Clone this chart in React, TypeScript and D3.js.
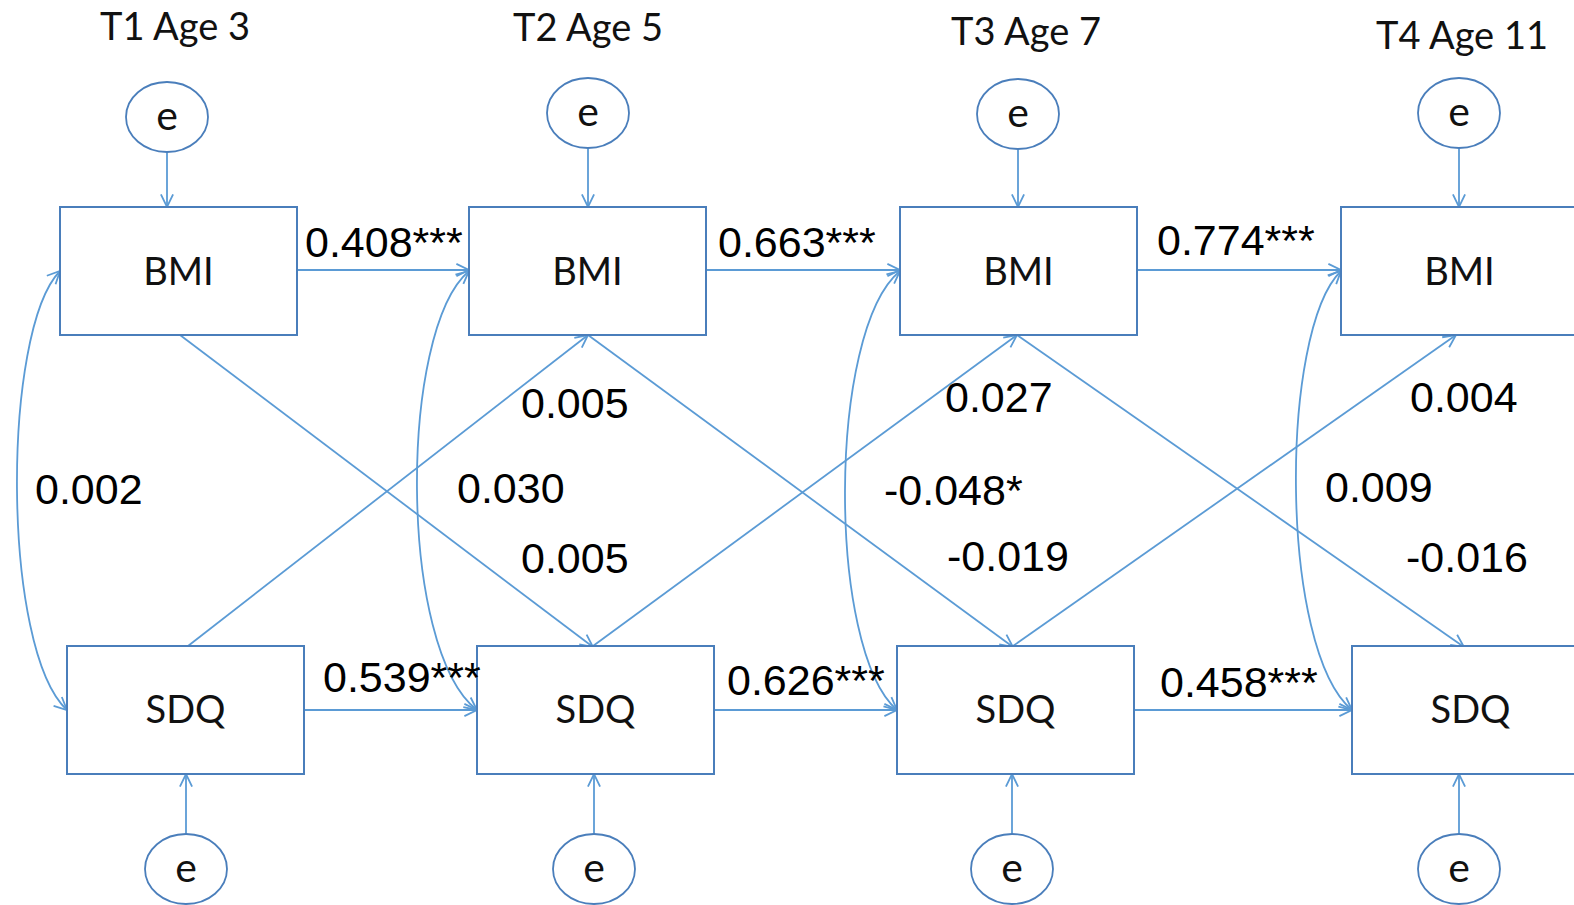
import React from "react";
import * as d3 from "d3";

// Cross-lagged panel model: BMI and SDQ across four waves
const waves = ["T1 Age 3", "T2 Age 5", "T3 Age 7", "T4 Age 11"];
const bmiStability = ["0.408***", "0.663***", "0.774***"];
const sdqStability = ["0.539***", "0.626***", "0.458***"];
const sdqToBmi = ["0.005", "0.027", "0.004"];
const bmiToSdq = ["0.005", "-0.019", "-0.016"];
const residualCorr = ["0.002", "0.030", "-0.048*", "0.009"];

// Layout
const W = 1574;
const H = 905;
const BOX_W = 237;
const BOX_H = 128;
const bmiBoxX = [60, 469, 900, 1341];
const sdqBoxX = [67, 477, 897, 1352];
const BMI_Y = 207;
const SDQ_Y = 646;
const bmiAnchor = [180, 588, 1017, 1456];
const sdqAnchor = [188, 593, 1013, 1464];
const topErr: [number, number][] = [[167, 117], [588, 113], [1018, 114], [1459, 113]];
const botErr: [number, number][] = [[186, 869], [594, 869], [1012, 869], [1459, 869]];
const ERR_RX = 41;
const ERR_RY = 35;
const curveLeft = [17, 417, 845, 1296];
const titlePos: [number, number][] = [[175, 40], [588, 41], [1026, 45], [1462, 49]];
const bmiLabelPos: [number, number][] = [[305, 257], [718, 257], [1157, 255]];
const sdqLabelPos: [number, number][] = [[323, 692], [727, 695], [1160, 697]];
const upperPos: [number, number][] = [[521, 418], [945, 412], [1410, 412]];
const lowerPos: [number, number][] = [[521, 573], [947, 571], [1406, 572]];
const corrPos: [number, number][] = [[35, 504], [457, 503], [884, 505], [1325, 502]];

const BOX_STROKE = "#4A7EBB";
const LINE = "#5B9BD5";
const NUM_FONT = "'Liberation Sans', Arial, sans-serif";
const LABEL_FONT = "Lato, 'Open Sans', sans-serif";

type P = [number, number];

const line = d3.line<P>();

function head(tip: P, angle: number, len = 14, spread = 0.45): string {
  const a: P = [tip[0] - len * Math.cos(angle - spread), tip[1] - len * Math.sin(angle - spread)];
  const b: P = [tip[0] - len * Math.cos(angle + spread), tip[1] - len * Math.sin(angle + spread)];
  return line([a, tip, b]) as string;
}

function Arrow({ from, to }: { from: P; to: P }) {
  const ang = Math.atan2(to[1] - from[1], to[0] - from[0]);
  return (
    <g>
      <path d={line([from, to]) as string} stroke={LINE} strokeWidth={1.8} fill="none" />
      <path d={head(to, ang)} stroke={LINE} strokeWidth={1.8} fill="none" />
    </g>
  );
}

function Corr({ top, bottom, left }: { top: P; bottom: P; left: number }) {
  const k = 60;
  const xc = (8 * left - top[0] - bottom[0]) / 6;
  const p1: P = [xc, top[1] + k];
  const p2: P = [xc, bottom[1] - k];
  const path = d3.path();
  path.moveTo(top[0], top[1]);
  path.bezierCurveTo(p1[0], p1[1], p2[0], p2[1], bottom[0], bottom[1]);
  const a0 = Math.atan2(top[1] - p1[1], top[0] - p1[0]);
  const a1 = Math.atan2(bottom[1] - p2[1], bottom[0] - p2[0]);
  return (
    <g>
      <path d={path.toString()} stroke={LINE} strokeWidth={1.8} fill="none" />
      <path d={head(top, a0)} stroke={LINE} strokeWidth={1.8} fill="none" />
      <path d={head(bottom, a1)} stroke={LINE} strokeWidth={1.8} fill="none" />
    </g>
  );
}

export default function App() {
  const idx = d3.range(waves.length);
  const gaps = d3.range(waves.length - 1);
  return (
    <svg
      width={W}
      height={H}
      viewBox={`0 0 ${W} ${H}`}
      style={{ position: "absolute", left: 0, top: 0, background: "#fff" }}
    >
      <rect width={W} height={H} fill="#fff" />

      {/* wave titles */}
      {waves.map((w, i) => (
        <text
          key={w}
          x={titlePos[i][0]}
          y={titlePos[i][1]}
          textAnchor="middle"
          fontFamily={LABEL_FONT}
          fontSize={38}
          fill="#111"
        >
          {w}
        </text>
      ))}

      {/* residual correlations */}
      {idx.map((i) => (
        <Corr
          key={"c" + i}
          top={[bmiBoxX[i], BMI_Y + BOX_H / 2]}
          bottom={[sdqBoxX[i], SDQ_Y + BOX_H / 2]}
          left={curveLeft[i]}
        />
      ))}

      {/* autoregressive paths */}
      {gaps.map((i) => (
        <g key={"h" + i}>
          <Arrow from={[bmiBoxX[i] + BOX_W, BMI_Y + 63]} to={[bmiBoxX[i + 1], BMI_Y + 63]} />
          <Arrow from={[sdqBoxX[i] + BOX_W, SDQ_Y + 64]} to={[sdqBoxX[i + 1], SDQ_Y + 64]} />
        </g>
      ))}

      {/* cross-lagged paths */}
      {gaps.map((i) => (
        <g key={"x" + i}>
          <Arrow from={[bmiAnchor[i], BMI_Y + BOX_H]} to={[sdqAnchor[i + 1], SDQ_Y + 1]} />
          <Arrow from={[sdqAnchor[i], SDQ_Y]} to={[bmiAnchor[i + 1], BMI_Y + BOX_H]} />
        </g>
      ))}

      {/* error terms */}
      {idx.map((i) => (
        <g key={"e" + i}>
          <Arrow from={[topErr[i][0], topErr[i][1] + ERR_RY]} to={[topErr[i][0], BMI_Y]} />
          <Arrow from={[botErr[i][0], botErr[i][1] - ERR_RY]} to={[botErr[i][0], SDQ_Y + BOX_H]} />
          {[topErr[i], botErr[i]].map((c, j) => (
            <g key={j}>
              <ellipse cx={c[0]} cy={c[1]} rx={ERR_RX} ry={ERR_RY} fill="#fff" stroke={BOX_STROKE} strokeWidth={1.8} />
              <text
                x={c[0]}
                y={c[1] + 13}
                textAnchor="middle"
                fontFamily={LABEL_FONT}
                fontSize={41}
                fill="#111"
              >
                e
              </text>
            </g>
          ))}
        </g>
      ))}

      {/* observed variables */}
      {idx.map((i) => (
        <g key={"b" + i}>
          <rect x={bmiBoxX[i]} y={BMI_Y} width={BOX_W} height={BOX_H} fill="#fff" stroke={BOX_STROKE} strokeWidth={2} />
          <text
            x={bmiBoxX[i] + BOX_W / 2}
            y={BMI_Y + 78}
            textAnchor="middle"
            fontFamily={LABEL_FONT}
            fontSize={38}
            fill="#111"
          >
            BMI
          </text>
          <rect x={sdqBoxX[i]} y={SDQ_Y} width={BOX_W} height={BOX_H} fill="#fff" stroke={BOX_STROKE} strokeWidth={2} />
          <text
            x={sdqBoxX[i] + BOX_W / 2}
            y={SDQ_Y + 77}
            textAnchor="middle"
            fontFamily={LABEL_FONT}
            fontSize={38}
            fill="#111"
          >
            SDQ
          </text>
        </g>
      ))}

      {/* coefficients */}
      <g fontFamily={NUM_FONT} fontSize={43} fill="#000">
        {bmiStability.map((v, i) => (
          <text key={"bs" + i} x={bmiLabelPos[i][0]} y={bmiLabelPos[i][1]}>{v}</text>
        ))}
        {sdqStability.map((v, i) => (
          <text key={"ss" + i} x={sdqLabelPos[i][0]} y={sdqLabelPos[i][1]}>{v}</text>
        ))}
        {sdqToBmi.map((v, i) => (
          <text key={"u" + i} x={upperPos[i][0]} y={upperPos[i][1]}>{v}</text>
        ))}
        {bmiToSdq.map((v, i) => (
          <text key={"l" + i} x={lowerPos[i][0]} y={lowerPos[i][1]}>{v}</text>
        ))}
        {residualCorr.map((v, i) => (
          <text key={"r" + i} x={corrPos[i][0]} y={corrPos[i][1]}>{v}</text>
        ))}
      </g>
    </svg>
  );
}
